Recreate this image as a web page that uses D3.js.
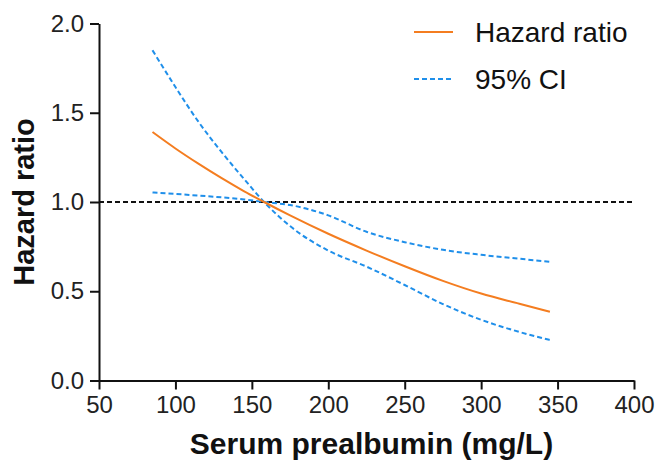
<!DOCTYPE html>
<html>
<head>
<meta charset="utf-8">
<script src="https://cdn.jsdelivr.net/npm/d3@7"></script>
<style>
  html, body { margin: 0; padding: 0; background: #fff; }
  svg { display: block; font-family: "Liberation Sans", Arial, sans-serif; }
</style>
</head>
<body>
<svg id="chart" width="657" height="465"></svg>
<script>
// Data
const prealbumin = [85, 100, 115, 130, 145, 158, 175, 200, 225, 250, 275, 300, 325, 345];
const hazardRatio = [1.392, 1.30, 1.215, 1.135, 1.06, 1.0, 0.925, 0.822, 0.728, 0.64, 0.558, 0.487, 0.43, 0.385];
const ciLower = [1.85, 1.644, 1.45, 1.282, 1.128, 1.0, 0.865, 0.728, 0.638, 0.535, 0.428, 0.34, 0.272, 0.227];
const ciUpper = [1.053, 1.045, 1.036, 1.026, 1.014, 1.0, 0.983, 0.925, 0.833, 0.775, 0.732, 0.704, 0.682, 0.665];
const xTicks = [50, 100, 150, 200, 250, 300, 350, 400];
const yTicks = [0.0, 0.5, 1.0, 1.5, 2.0];
const referenceHR = 1.0;
const legendLabels = ["Hazard ratio", "95% CI"];

const W = 657, H = 465;
const margin = { top: 23.5, right: 23, bottom: 84.5, left: 99 };
const svg = d3.select("#chart");
const x = d3.scaleLinear().domain([50, 400]).range([margin.left, W - margin.right]);
const y = d3.scaleLinear().domain([0, 2]).range([H - margin.bottom, margin.top]);

const orange = "#F47D20";
const blue = "#1F8FEA";

// reference line
svg.append("line")
  .attr("x1", x(50)).attr("x2", x(400))
  .attr("y1", y(referenceHR)).attr("y2", y(referenceHR))
  .attr("stroke", "#111").attr("stroke-width", 1.8)
  .attr("stroke-dasharray", "5,3");

const line = (vals) => d3.line()
  .x((d, i) => x(prealbumin[i]))
  .y(d => y(d))
  .curve(d3.curveMonotoneX)(vals);

svg.append("path").attr("d", line(ciLower))
  .attr("fill", "none").attr("stroke", blue).attr("stroke-width", 2)
  .attr("stroke-dasharray", "5,3");
svg.append("path").attr("d", line(ciUpper))
  .attr("fill", "none").attr("stroke", blue).attr("stroke-width", 2)
  .attr("stroke-dasharray", "5,3");
svg.append("path").attr("d", line(hazardRatio))
  .attr("fill", "none").attr("stroke", orange).attr("stroke-width", 2);

// axes
const xAxis = svg.append("g")
  .attr("transform", `translate(0,${y(0)})`)
  .call(d3.axisBottom(x).tickValues(xTicks).tickSize(9).tickSizeOuter(0).tickPadding(6).tickFormat(d3.format("d")));
const yAxis = svg.append("g")
  .attr("transform", `translate(${x(50)},0)`)
  .call(d3.axisLeft(y).tickValues(yTicks).tickSize(9).tickSizeOuter(0).tickPadding(6).tickFormat(d3.format(".1f")));

[xAxis, yAxis].forEach(g => {
  g.select(".domain").attr("stroke", "#111").attr("stroke-width", 2);
  g.selectAll(".tick line").attr("stroke", "#111").attr("stroke-width", 2);
  g.selectAll(".tick text").attr("fill", "#222").style("font-size", "24px")
    .style("font-family", "'Liberation Sans', Arial, sans-serif");
});

// axis titles
svg.append("text")
  .attr("x", (x(50) + x(400)) / 2 + 5).attr("y", 454)
  .attr("text-anchor", "middle")
  .style("font-size", "30px").style("font-weight", "bold").attr("fill", "#111")
  .text("Serum prealbumin (mg/L)");
svg.append("text")
  .attr("transform", `translate(34,${(y(0) + y(2)) / 2}) rotate(-90)`)
  .attr("text-anchor", "middle")
  .style("font-size", "29px").style("font-weight", "bold").attr("fill", "#111")
  .text("Hazard ratio");

// legend
const legend = svg.append("g");
const items = [
  { label: legendLabels[0], color: orange, dash: null, yy: 32 },
  { label: legendLabels[1], color: blue, dash: "5,3", yy: 79 }
];
items.forEach(it => {
  legend.append("line")
    .attr("x1", 414).attr("x2", 453).attr("y1", it.yy).attr("y2", it.yy)
    .attr("stroke", it.color).attr("stroke-width", 2)
    .attr("stroke-dasharray", it.dash);
  legend.append("text")
    .attr("x", 475).attr("y", it.yy).attr("dy", "0.35em")
    .style("font-size", "28px").attr("fill", "#111")
    .text(it.label);
});
</script>
</body>
</html>
